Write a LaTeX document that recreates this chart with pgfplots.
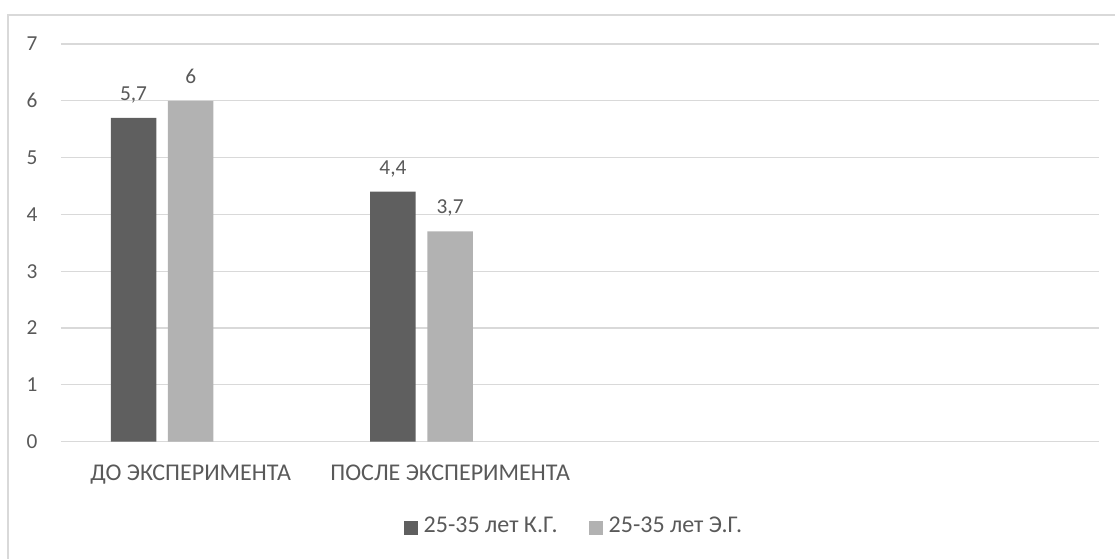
\documentclass[border=0pt]{standalone}
\usepackage{fontspec}
\setmainfont{Carlito}
\usepackage{pgfplots}
\pgfplotsset{compat=1.18}

\definecolor{kgbar}{HTML}{5F5F5F}
\definecolor{egbar}{HTML}{B2B2B2}
\definecolor{txtgray}{HTML}{595959}
\definecolor{linegray}{HTML}{D9D9D9}

\begin{document}
\begin{tikzpicture}
\useasboundingbox (0,0) rectangle (836.25pt,418.5pt);
% chart-area frame (top and left edges visible)
\begin{scope}
  \clip (0,0) rectangle (836.25pt,418.5pt);
  \draw[linegray, line width=1pt] (6pt,-10pt) -- (6pt,407.25pt) -- (850pt,407.25pt);
\end{scope}
\begin{axis}[
  at={(45.75pt,87.225pt)}, anchor=south west,
  scale only axis, width=778.3pt, height=298.3pt,
  xmin=-0.5, xmax=3.5, ymin=0, ymax=7,
  xtick={0,1},
  xticklabels={ДО ЭКСПЕРИМЕНТА, ПОСЛЕ ЭКСПЕРИМЕНТА},
  ytick={0,1,...,7},
  ymajorgrids, grid style={linegray, line width=0.9pt},
  axis line style={draw=none}, major tick style={draw=none},
  xticklabel style={anchor=base, yshift=-29.25pt,
    font=\fontsize{18}{21}\selectfont, text=txtgray},
  yticklabel style={anchor=east, inner sep=0pt, xshift=-17.5pt,
    font=\fontsize{16}{19}\selectfont, text=txtgray},
  /pgf/number format/.cd, use comma, assume math mode=true, /pgfplots/.cd,
  every node near coord/.append style={font=\fontsize{16}{19}\selectfont,
    text=txtgray, anchor=base, yshift=13.2pt},
  legend columns=2,
  legend style={at={(axis description cs:0.4934,-0.212)}, anchor=center,
    draw=none, fill=none, inner sep=0pt,
    font=\fontsize{18}{21}\selectfont, text=txtgray,
    nodes={inner sep=0pt},
    /tikz/every odd column/.append style={column sep=4.5pt},
    /tikz/every even column/.append style={column sep=23.25pt}},
]
% К.Г. bars sit left of each category centre, Э.Г. bars on the centre
\addplot[ybar, bar width=0.1754, bar shift=0, fill=kgbar, draw=none,
  nodes near coords,
  legend image code/.code={\fill[kgbar] (0pt,-6.75pt) rectangle (10.5pt,3.75pt);}]
  coordinates {(-0.2205,5.7) (0.7795,4.4)};
\addlegendentry{25-35 лет К.Г.}
\addplot[ybar, bar width=0.1754, bar shift=0, fill=egbar, draw=none,
  nodes near coords,
  legend image code/.code={\fill[egbar] (0pt,-6.75pt) rectangle (10.5pt,3.75pt);}]
  coordinates {(0,6) (1,3.7)};
\addlegendentry{25-35 лет Э.Г.}
\end{axis}
\end{tikzpicture}
\end{document}
